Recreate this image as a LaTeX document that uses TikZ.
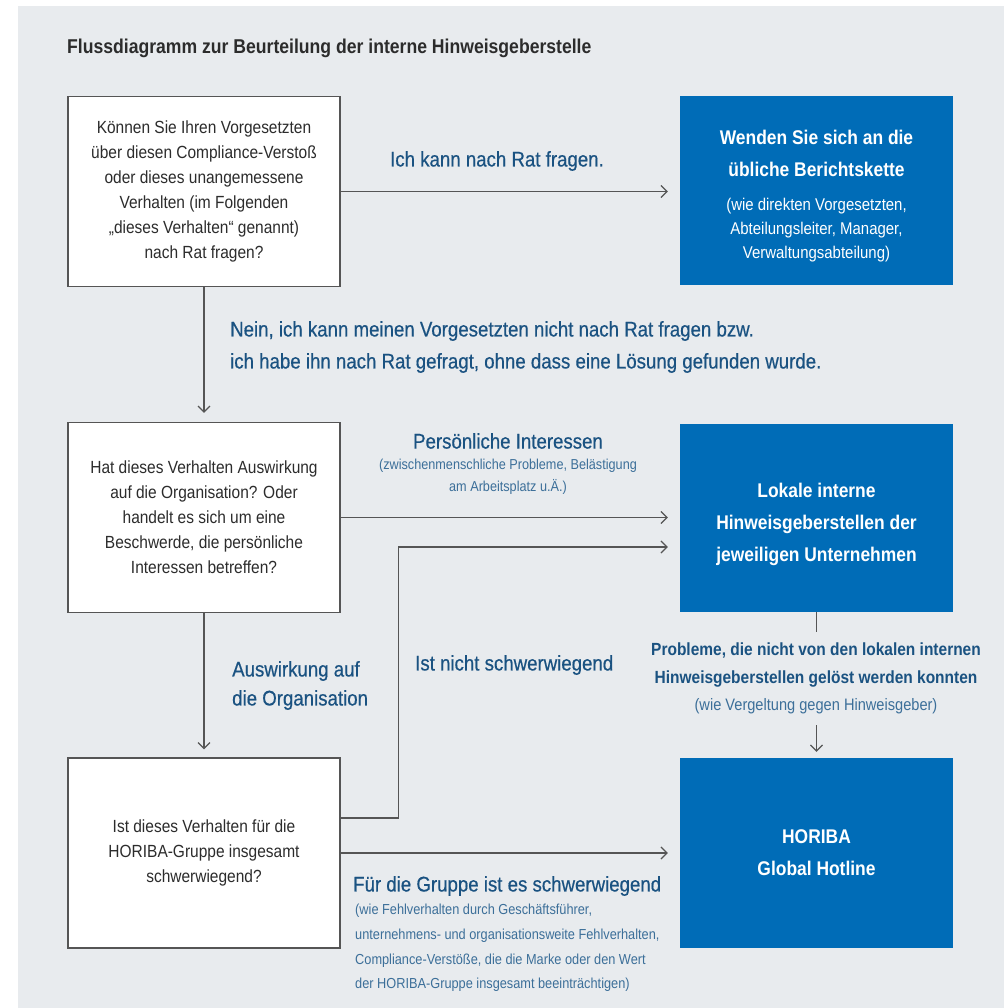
\documentclass[tikz,border=0pt]{standalone}
\usepackage{fontspec}
\setmainfont{Liberation Sans}[FakeStretch=0.88]
\newfontfamily\lblFamily{Liberation Sans}[FakeStretch=0.88, FakeBold=0.5]
\usetikzlibrary{arrows.meta}

\definecolor{bgGray}{HTML}{E8EBEE}
\definecolor{horibaBlue}{HTML}{006CB7}
\definecolor{lineGray}{HTML}{555555}
\definecolor{txtDark}{HTML}{2C2C2C}
\definecolor{lblBlue}{HTML}{1A5281}
\definecolor{lblLight}{HTML}{3C6F99}

\newcommand\headFont{\bfseries\fontsize{19.8}{32}\selectfont}
\newcommand\probFont{\bfseries\fontsize{17.6}{28}\selectfont\color{lblBlue}}

\begin{document}
\begin{tikzpicture}[x=1pt, y=-1pt,
  qbox/.style={draw=lineGray, line width=1.2pt, fill=white, minimum width=272pt,
    minimum height=190pt, align=center, text=txtDark, inner sep=0pt,
    font=\fontsize{17.6}{25}\selectfont},
  abox/.style={fill=horibaBlue, minimum width=273pt, minimum height=189pt,
    align=center, text=white, inner sep=0pt, font=\headFont},
  conn/.style={draw=lineGray, line width=1.2pt},
  arr/.style={conn, -{Straight Barb[length=6pt,width=12pt]}},
  lbl/.style={text=lblBlue, inner sep=0pt, font=\lblFamily\fontsize{21.2}{32}\selectfont},
  lblsub/.style={text=lblLight, inner sep=0pt, font=\fontsize{14.5}{24.6}\selectfont}]

	\useasboundingbox (0,0) rectangle (1004,1008);
	\fill[bgGray] (18,6) rectangle (1004,1008);

	% Title
	\node[anchor=west, inner sep=0pt, text=txtDark, font=\fontsize{20}{24}\selectfont\bfseries]
	  (title) at (67,48) {Flussdiagramm zur Beurteilung der interne Hinweisgeberstelle};

	% Questions
	\node[qbox] (q1) at (204,191.5) {Können Sie Ihren Vorgesetzten\\über diesen Compliance-Verstoß\\oder dieses unangemessene\\Verhalten (im Folgenden\\„dieses Verhalten“ genannt)\\nach Rat fragen?};
	\node[qbox] (q2) at (204,517.5) {Hat dieses Verhalten Auswirkung\\auf die Organisation? Oder\\handelt es sich um eine\\Beschwerde, die persönliche\\Interessen betreffen?};
	\node[qbox] (q3) at (204,853) {Ist dieses Verhalten für die\\HORIBA-Gruppe insgesamt\\schwerwiegend?};

	% Answers
	\node[abox, font=\mdseries\fontsize{17}{24}\selectfont] (r1) at (816.5,190.5)
	  {\rule{0pt}{25pt}\headFont Wenden Sie sich an die\\[8pt]\headFont übliche Berichtskette\\[10pt](wie direkten Vorgesetzten,\\Abteilungsleiter, Manager,\\Verwaltungsabteilung)};
	\node[abox, minimum height=188pt] (r2) at (816.5,518) {\rule{0pt}{28pt}Lokale interne\\Hinweisgeberstellen der\\jeweiligen Unternehmen};
	\node[abox, minimum height=190pt] (r3) at (816.5,853) {HORIBA\\Global Hotline};

	% Labels
	\node[lbl] (lbRat) at (497,161) {Ich kann nach Rat fragen.};
	\node[lbl, anchor=west, align=left] (lbNein) at (230,347) {Nein, ich kann meinen Vorgesetzten nicht nach Rat fragen bzw.\\ich habe ihn nach Rat gefragt, ohne dass eine Lösung gefunden wurde.};
	\node[lbl] (lbPers) at (508,441) {Persönliche Interessen};
	\node[lblsub, align=center, font=\fontsize{14.4}{22}\selectfont] (lbPersSub) at (508,477) {(zwischenmenschliche Probleme, Belästigung\\am Arbeitsplatz u.Ä.)};
	\node[lbl, anchor=west, align=left, font=\lblFamily\fontsize{21.2}{29}\selectfont] (lbAusw) at (232,685.5) {Auswirkung auf\\die Organisation};
	\node[lbl, anchor=west] (lbNicht) at (415,665) {Ist nicht schwerwiegend};
	\node[lbl, anchor=west] (lbGruppe) at (353,886) {Für die Gruppe ist es schwerwiegend};
	\node[lblsub, anchor=west, align=left] (lbGruppeSub) at (355,948) {(wie Fehlverhalten durch Geschäftsführer,\\unternehmens- und organisationsweite Fehlverhalten,\\Compliance-Verstöße, die die Marke oder den Wert\\der HORIBA-Gruppe insgesamt beeinträchtigen)};
	\node[lblsub, align=center, inner xsep=0pt, inner ysep=11pt, font=\fontsize{16.6}{27.5}\selectfont]
	  (lbProb) at (816,678.5) {\probFont Probleme, die nicht von den lokalen internen\\\probFont Hinweisgeberstellen gelöst werden konnten\\(wie Vergeltung gegen Hinweisgeber)};

	% Connectors
	\draw[arr, shorten >=12pt] (q1.east) -- (q1.east -| r1.west);
	\draw[arr, shorten >=9pt] (q1.south) -- (q2.north);
	\draw[arr, shorten >=12pt] (q2.east) -- (q2.east -| r2.west);
	\draw[arr, shorten >=8pt] (q2.south) -- (q3.north);
	\draw[arr, shorten >=12pt] (q3.east) -- (q3.east -| r3.west);
	\draw[arr, shorten >=12pt] ([yshift=35pt]q3.east) -- ++(58,0) |- ([yshift=-29pt]r2.west);
	\draw[conn] (r2.south) -- (r2.south |- lbProb.north);
	\draw[arr, shorten >=6pt] (r3.north |- lbProb.south) -- (r3.north);

\end{tikzpicture}
\end{document}
